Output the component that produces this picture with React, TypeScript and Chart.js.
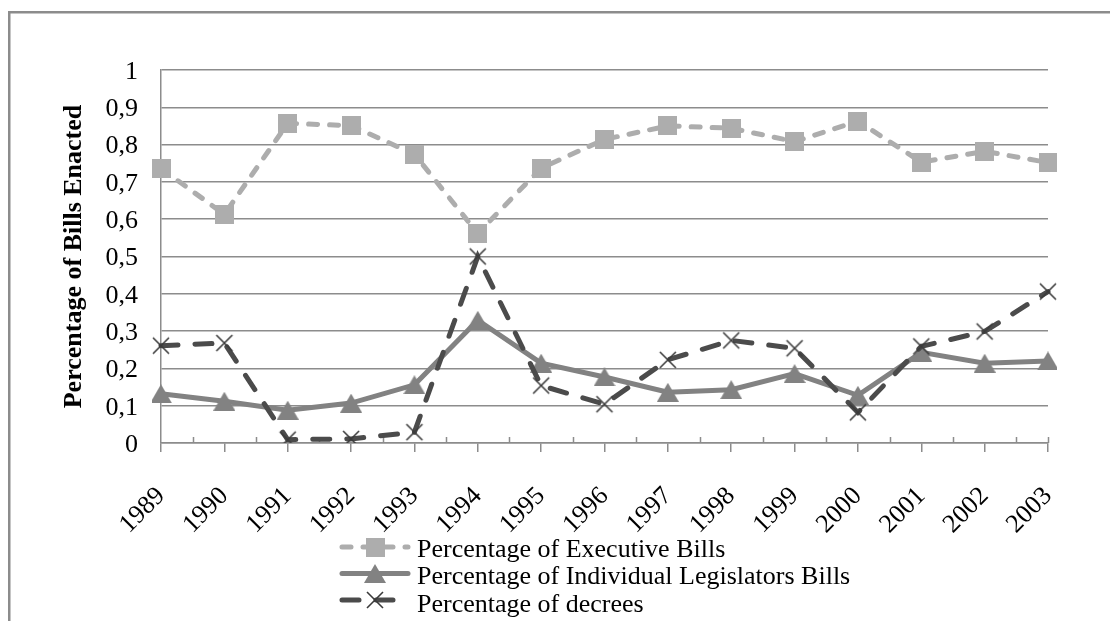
import React, { useEffect, useRef } from 'react';
import { Chart, registerables } from 'chart.js';

Chart.register(...registerables);

// Share of bills enacted per year
const years = ['1989', '1990', '1991', '1992', '1993', '1994', '1995', '1996', '1997', '1998', '1999', '2000', '2001', '2002', '2003'];
const executiveShare = [0.736, 0.613, 0.857, 0.851, 0.774, 0.562, 0.737, 0.814, 0.85, 0.844, 0.808, 0.863, 0.753, 0.782, 0.752];
const legislatorShare = [0.132, 0.112, 0.088, 0.107, 0.156, 0.329, 0.214, 0.177, 0.136, 0.143, 0.186, 0.128, 0.243, 0.214, 0.22];
const decreeShare = [0.261, 0.268, 0.009, 0.011, 0.029, 0.5, 0.154, 0.104, 0.223, 0.275, 0.254, 0.082, 0.259, 0.299, 0.406];
const seriesLabels = [
  'Percentage of Executive Bills',
  'Percentage of Individual Legislators Bills',
  'Percentage of decrees',
];
const yTitle = 'Percentage of Bills Enacted';

const FONT = "'Liberation Serif', 'Times New Roman', serif";
const EXEC_COLOR = '#adadad';
const LEG_COLOR = '#828282';
const DECREE_COLOR = '#4b4b4b';
const CROSS_COLOR = '#3a3a3a';
const GRID_COLOR = '#8c8c8c';

function makeMarker(kind: 'square' | 'triangle' | 'cross'): HTMLCanvasElement {
  const c = document.createElement('canvas');
  const ctx = c.getContext('2d')!;
  if (kind === 'square') {
    c.width = 19; c.height = 19;
    ctx.fillStyle = EXEC_COLOR;
    ctx.fillRect(0, 0, 19, 19);
  } else if (kind === 'triangle') {
    c.width = 22; c.height = 19;
    ctx.fillStyle = LEG_COLOR;
    ctx.beginPath();
    ctx.moveTo(11, 0);
    ctx.lineTo(22, 19);
    ctx.lineTo(0, 19);
    ctx.closePath();
    ctx.fill();
  } else {
    c.width = 20; c.height = 20;
    ctx.strokeStyle = CROSS_COLOR;
    ctx.lineWidth = 1.6;
    ctx.beginPath();
    ctx.moveTo(2, 2); ctx.lineTo(18, 18);
    ctx.moveTo(18, 2); ctx.lineTo(2, 18);
    ctx.stroke();
  }
  return c;
}

// Outer frame around the whole figure
const framePlugin = {
  id: 'frame',
  beforeDraw(chart: any) {
    const { ctx } = chart;
    ctx.save();
    ctx.strokeStyle = GRID_COLOR;
    ctx.lineWidth = 2.5;
    ctx.strokeRect(9.25, 12.25, 1300, 1000);
    ctx.restore();
  },
};

// Short inner ticks between categories on the x axis
const minorTickPlugin = {
  id: 'minorTicks',
  beforeDatasetsDraw(chart: any) {
    const { ctx, chartArea } = chart;
    const xs = chart.scales.x;
    ctx.save();
    ctx.strokeStyle = GRID_COLOR;
    ctx.lineWidth = 1.5;
    ctx.beginPath();
    for (let i = 0; i < years.length - 1; i++) {
      const px = Math.round(xs.getPixelForValue(i + 0.5)) + 0.5;
      ctx.moveTo(px, chartArea.bottom - 6);
      ctx.lineTo(px, chartArea.bottom);
    }
    const last = Math.round(xs.getPixelForValue(years.length - 1)) + 0.5;
    ctx.moveTo(last, chartArea.bottom - 6);
    ctx.lineTo(last, chartArea.bottom);
    ctx.stroke();
    ctx.restore();
  },
};

// Stacked key below the axis: line sample, marker, label
const keyPlugin = {
  id: 'seriesKey',
  afterDraw(chart: any) {
    const { ctx } = chart;
    const lineRows = [547, 573.5, 600];
    const textRows = [550, 577.5, 605];
    chart.data.datasets.forEach((ds: any, i: number) => {
      ctx.save();
      ctx.strokeStyle = ds.borderColor;
      ctx.lineWidth = ds.borderWidth;
      ctx.lineCap = ds.borderCapStyle || 'butt';
      ctx.setLineDash(ds.borderDash || []);
      ctx.beginPath();
      ctx.moveTo(342, lineRows[i]);
      ctx.lineTo(408, lineRows[i]);
      ctx.stroke();
      const img = ds.pointStyle as HTMLCanvasElement;
      ctx.drawImage(img, 375 - img.width / 2, lineRows[i] - img.height / 2);
      ctx.setLineDash([]);
      ctx.fillStyle = '#000';
      ctx.font = `26px ${FONT}`;
      ctx.textBaseline = 'middle';
      ctx.textAlign = 'left';
      ctx.fillText(ds.label, 417, textRows[i]);
      ctx.restore();
    });
  },
};

export default function App() {
  const ref = useRef<HTMLCanvasElement | null>(null);

  useEffect(() => {
    if (!ref.current) return;
    document.body.style.overflow = 'hidden';
    const square = makeMarker('square');
    const triangle = makeMarker('triangle');
    const cross = makeMarker('cross');

    const chart = new Chart(ref.current, {
      type: 'line',
      data: {
        labels: years,
        datasets: [
          {
            label: seriesLabels[0],
            data: executiveShare,
            borderColor: EXEC_COLOR,
            backgroundColor: EXEC_COLOR,
            borderWidth: 5,
            borderDash: [9, 12],
            borderCapStyle: 'round',
            pointStyle: square as any,
            order: 3,
            tension: 0,
          },
          {
            label: seriesLabels[1],
            data: legislatorShare,
            borderColor: LEG_COLOR,
            backgroundColor: LEG_COLOR,
            borderWidth: 5,
            borderCapStyle: 'round',
            pointStyle: triangle as any,
            order: 2,
            tension: 0,
          },
          {
            label: seriesLabels[2],
            data: decreeShare,
            borderColor: DECREE_COLOR,
            backgroundColor: DECREE_COLOR,
            borderWidth: 5,
            borderDash: [17, 17],
            borderCapStyle: 'round',
            pointStyle: cross as any,
            order: 1,
            tension: 0,
          },
        ],
      },
      options: {
        responsive: false,
        animation: false,
        events: [],
        layout: { padding: { left: 55, right: 62, top: 70, bottom: 0 } },
        font: { family: FONT },
        plugins: {
          legend: { display: false },
          tooltip: { enabled: false },
          title: { display: false },
        },
        scales: {
          x: {
            offset: false,
            grid: {
              display: true,
              drawOnChartArea: false,
              drawTicks: true,
              tickLength: 9,
              color: GRID_COLOR,
              lineWidth: 1.5,
            },
            border: { display: true, color: GRID_COLOR, width: 1.5 },
            ticks: {
              autoSkip: false,
              maxRotation: 45,
              minRotation: 45,
              padding: 29,
              color: '#000',
              font: { family: FONT, size: 26 },
            },
            afterFit(scale: any) {
              scale.height = 178;
            },
          },
          y: {
            min: 0,
            max: 1,
            grid: {
              color: GRID_COLOR,
              lineWidth: 1.5,
              drawTicks: false,
            },
            border: { display: true, color: GRID_COLOR, width: 1.5 },
            ticks: {
              stepSize: 0.1,
              padding: 23,
              labelOffset: 2,
              color: '#000',
              font: { family: FONT, size: 26 },
              callback: (v: any) => String(Math.round(Number(v) * 10) / 10).replace('.', ','),
            },
            title: {
              display: true,
              text: yTitle,
              color: '#000',
              font: { family: FONT, size: 26, weight: 'bold' },
              padding: { top: 4, bottom: 0 },
            },
            afterFit(scale: any) {
              scale.width = 106;
            },
          },
        },
      },
      plugins: [framePlugin, minorTickPlugin, keyPlugin],
    });

    return () => chart.destroy();
  }, []);

  return (
    <div style={{ position: 'absolute', left: 0, top: 0, width: 1110, height: 621, overflow: 'hidden' }}>
      <canvas ref={ref} width={1110} height={621} style={{ display: 'block' }} />
    </div>
  );
}
